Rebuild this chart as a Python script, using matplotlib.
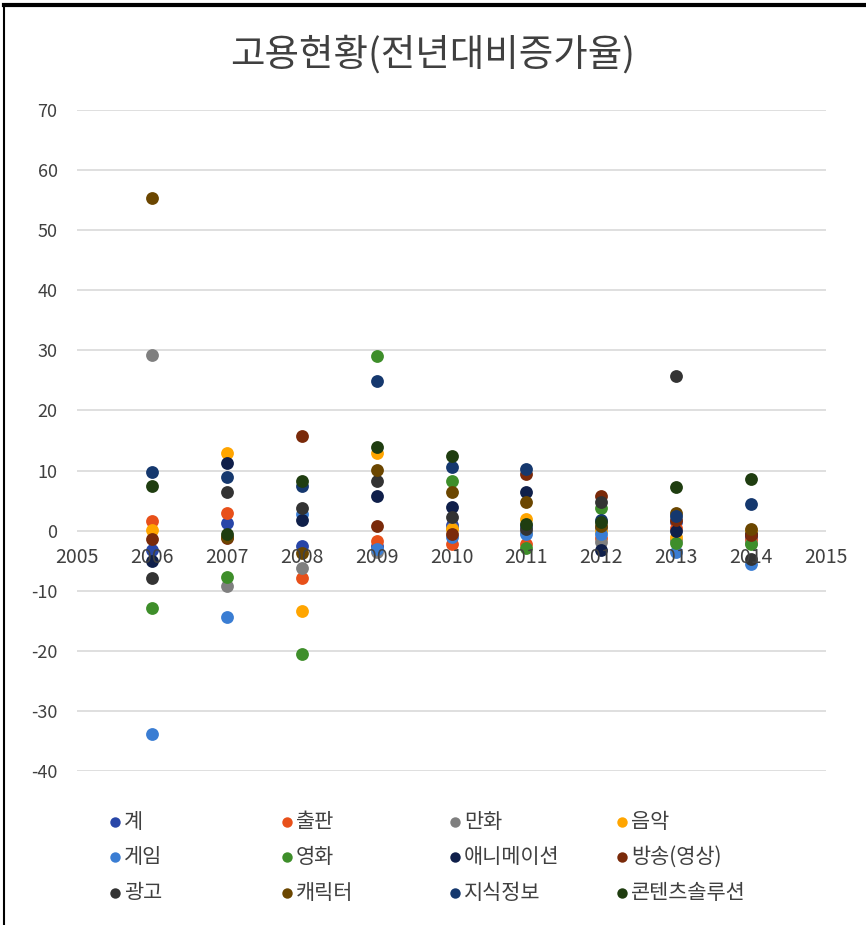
import matplotlib
matplotlib.use('Agg')
import matplotlib.pyplot as plt
from matplotlib.lines import Line2D

plt.rcParams['font.family'] = ['Noto Sans CJK KR', 'DejaVu Sans']
plt.rcParams['axes.unicode_minus'] = False

# 데이터 (전년대비 증가율, %)
years = [2006, 2007, 2008, 2009, 2010, 2011, 2012, 2013, 2014]
series_names = ['계', '출판', '만화', '음악', '게임', '영화',
                '애니메이션', '방송(영상)', '광고', '캐릭터', '지식정보', '콘텐츠솔루션']
total      = [-3.3, 1.2, -2.5, -2.5, 1.0, 0.8, 0.5, 1.5, -1.0]
publishing = [1.6, 3.0, -7.8, -1.7, -2.2, -2.2, -1.3, 0.5, -1.5]
comics     = [29.3, -9.2, -6.3, -3.5, 0.5, -0.3, -1.9, -1.5, -2.0]
music      = [0.1, 12.9, -13.3, 13.0, 0.3, 1.9, 0.0, -1.1, 0.0]
games      = [-33.8, -14.4, 2.8, -3.0, -1.0, -0.5, -0.6, -3.6, -5.5]
film       = [-12.8, -7.7, -20.5, 29.0, 8.2, -2.9, 3.8, -2.1, -2.2]
animation  = [-5.0, 11.2, 1.8, 5.8, 4.0, 6.5, -3.3, -0.1, -0.5]
broadcast  = [-1.4, -1.2, 15.7, 0.8, -0.5, 9.5, 5.8, 1.7, -0.7]
advert     = [-7.9, 6.4, 3.8, 8.2, 2.2, 0.3, 4.7, 25.7, -4.7]
character  = [55.4, -1.0, -3.8, 10.1, 6.5, 4.8, 0.8, 3.0, 0.2]
knowledge  = [9.7, 8.9, 7.5, 24.9, 10.6, 10.3, 1.8, 2.5, 4.5]
solution   = [7.4, -0.6, 8.3, 13.9, 12.5, 1.1, 1.5, 7.2, 8.6]
values = [total, publishing, comics, music, games, film,
          animation, broadcast, advert, character, knowledge, solution]

colors = ['#2846A8', '#E8501A', '#7F7F7F', '#FFA500', '#3A7DD3', '#3E8E2A',
          '#0F1F4A', '#7A2A0A', '#333333', '#6B4600', '#15386E', '#1F3D10']

W, H = 866, 925
fig = plt.figure(figsize=(W / 100, H / 100), dpi=100)
ax = fig.add_axes([77 / W, 1 - 771 / H, 749 / W, 661 / H])

for name, vals, c in zip(series_names, values, colors):
    ax.scatter(years, vals, s=85, color=c, label=name, zorder=3, linewidths=0)

ax.set_xlim(2005, 2015)
ax.set_ylim(-40, 70)
ax.set_yticks(range(-40, 71, 10))
ax.set_xticks([])
ax.grid(axis='y', color='#d9d9d9', linewidth=1.2, zorder=0)
ax.set_axisbelow(True)
for s in ax.spines.values():
    s.set_visible(False)
ax.tick_params(axis='y', length=0, pad=14, labelsize=13, labelcolor='#404040')
for lb in ax.get_yticklabels():
    lb.set_fontweight('medium')

# x 라벨은 0 위치에 표시
for yr in range(2005, 2016):
    ax.annotate(str(yr), (yr, 0), xytext=(0, -19), textcoords='offset points',
                ha='center', va='center', fontsize=14, fontweight='medium',
                color='#404040', zorder=5)

fig.text(0.5, 1 - 55 / H, '고용현황(전년대비증가율)', ha='center', va='center',
         fontsize=27, color='#404040')

# 범례 (4열 x 3행, 행 우선)
col_x = [115, 287, 455, 622]
row_y = [822, 857, 893]
for i, (name, c) in enumerate(zip(series_names, colors)):
    x = col_x[i % 4]
    y = row_y[i // 4]
    fig.add_artist(Line2D([x / W], [1 - y / H], marker='o', markersize=7.5,
                          color=c, markeredgewidth=0, linestyle='',
                          transform=fig.transFigure))
    fig.text((x + 9) / W, 1 - y / H, name, ha='left', va='center',
             fontsize=15, fontweight='medium', color='#404040')

# 테두리
fig.add_artist(Line2D([4 / W, 4 / W], [0, 1 - 5 / H], color='black',
                      linewidth=1.5, transform=fig.transFigure))
fig.add_artist(Line2D([4 / W, 1], [1 - 5 / H, 1 - 5 / H], color='black',
                      linewidth=3, transform=fig.transFigure))

fig.savefig('out.png', dpi=100, facecolor='white')
